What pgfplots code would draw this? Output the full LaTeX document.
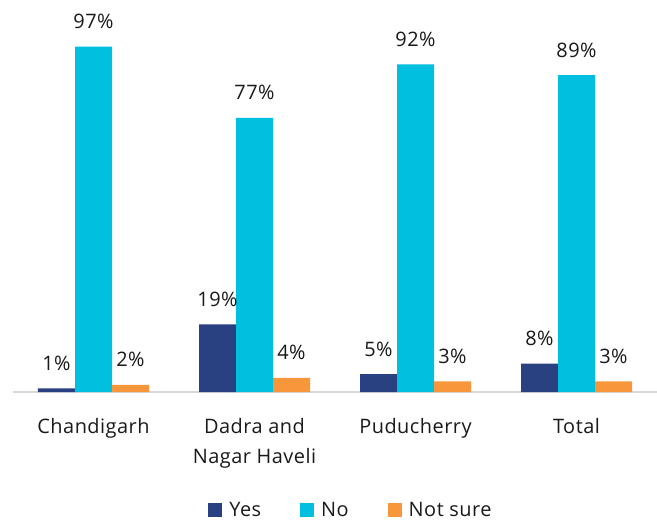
\documentclass[border=0pt]{standalone}
\usepackage{pgfplots}
\pgfplotsset{compat=1.18}
\usepackage{fontspec}
\setmainfont[LetterSpace=2.5]{Open Sans}
\definecolor{cyes}{HTML}{294081}
\definecolor{cno}{HTML}{00BFDF}
\definecolor{cns}{HTML}{F7963A}
\definecolor{cax}{HTML}{D9D9D9}
\begin{document}
\begin{tikzpicture}
\begin{axis}[
  scale only axis,
  width=644bp, height=356bp,
  xmin=-0.5, xmax=3.5, ymin=0, ymax=100,
  enlargelimits=false,
  ybar=0pt, bar width=37bp,
  axis x line*=bottom, axis y line=none,
  x axis line style={-, draw=cax, line width=2bp},
  ytick=\empty,
  xtick={0,1,2,3},
  xticklabels={Chandigarh,{Dadra and\\Nagar Haveli},Puducherry,Total},
  major tick length=0pt,
  xticklabel style={align=center, anchor=north, inner sep=0pt, yshift=-26bp, font=\fontsize{20}{30}\selectfont, text=black!90},
  /pgf/number format/assume math mode=true,
  nodes near coords={\pgfmathprintnumber{\pgfplotspointmeta}\%},
  every node near coord/.append style={anchor=base, yshift=18bp, inner sep=0pt, font=\fontsize{20}{24}\selectfont, text=black!90},
  legend columns=3,
  legend style={at={(0.5,-0.3315)}, anchor=center, xshift=16bp, draw=none, fill=none,
    font=\fontsize{20}{22}\selectfont, text=black!90, inner sep=0pt,
    /tikz/every odd column/.append style={column sep=5bp},
    /tikz/every even column/.append style={column sep=37bp}},
  legend image code/.code={\fill[#1] (0bp,-7bp) rectangle (14bp,7bp);},
]
\addplot[fill=cyes, draw=none] coordinates {(0,1) (1,19) (2,5) (3,8)};
\addplot[fill=cno, draw=none] coordinates {(0,97) (1,77) (2,92) (3,89)};
\addplot[fill=cns, draw=none] coordinates {(0,2) (1,4) (2,3) (3,3)};
\legend{Yes,No,Not sure}
\end{axis}
\pgfresetboundingbox
\path[use as bounding box] (-13bp,-129bp) rectangle (644bp,392bp);
\end{tikzpicture}
\end{document}
